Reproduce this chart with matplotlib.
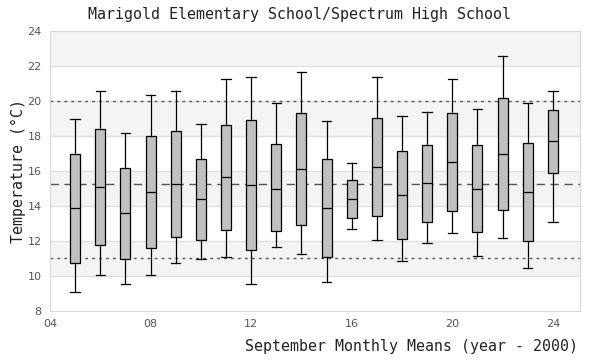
import numpy as np
import matplotlib
matplotlib.use("Agg")
import matplotlib.pyplot as plt

# September monthly means, year - 2000
years = list(range(5, 25))
whislo = [9.07, 10.04, 9.52, 10.04, 10.72, 10.95, 11.07, 9.52, 11.64, 11.24,
          9.64, 12.67, 12.04, 10.84, 11.87, 12.44, 11.12, 12.15, 10.44, 13.07]
q1 = [10.76, 11.79, 10.95, 11.58, 12.25, 12.04, 12.61, 11.47, 12.55, 12.90,
      11.07, 13.30, 13.41, 12.10, 13.07, 13.70, 12.50, 13.75, 11.98, 15.87]
med = [13.87, 15.07, 13.58, 14.78, 15.24, 14.38, 15.64, 15.18, 14.99, 16.11,
       13.87, 14.38, 16.23, 14.61, 15.30, 16.50, 14.95, 16.95, 14.78, 17.70]
q3 = [16.95, 18.40, 16.15, 17.98, 18.27, 16.67, 18.61, 18.90, 17.52, 19.30,
      16.67, 15.47, 19.01, 17.12, 17.47, 19.30, 17.47, 20.15, 17.58, 19.47]
whishi = [18.95, 20.57, 18.15, 20.32, 20.57, 18.67, 21.24, 21.35, 19.87, 21.64,
          18.86, 16.44, 21.35, 19.12, 19.35, 21.24, 19.52, 22.55, 19.87, 20.55]

overall_mean = 15.24
upper_ref = 20.0
lower_ref = 11.05

ytick_vals = [8, 10, 12, 14, 16, 18, 20, 22, 24]
xtick_vals = [4, 8, 12, 16, 20, 24]
xtick_labels = ["04", "08", "12", "16", "20", "24"]

stats = []
for i in range(len(years)):
    stats.append({"whislo": whislo[i], "q1": q1[i], "med": med[i],
                  "q3": q3[i], "whishi": whishi[i], "fliers": []})

fig = plt.figure(figsize=(6, 3.6), dpi=100)
ax = fig.add_axes([50 / 600, 49 / 360, 530 / 600, 280 / 360])

# alternating background bands
for lo in ytick_vals[:-1]:
    if (lo // 2) % 2 == 1:
        ax.axhspan(lo, lo + 2, color="#f4f4f4", zorder=0, lw=0)
for y in ytick_vals[1:-1]:
    ax.axhline(y, color="#e0e0e0", lw=1, zorder=0.5)

ax.axhline(overall_mean, color="#555555", lw=1, ls=(0, (6, 4)), zorder=1)
ax.axhline(upper_ref, color="#555555", lw=1, ls=(0, (2, 3)), zorder=1)
ax.axhline(lower_ref, color="#555555", lw=1, ls=(0, (2, 3)), zorder=1)

ax.bxp(stats, positions=years, widths=0.4, showfliers=False, patch_artist=True,
       boxprops=dict(facecolor="#c0c0c0", edgecolor="black", lw=0.9),
       medianprops=dict(color="black", lw=0.9),
       whiskerprops=dict(color="black", lw=0.9),
       capprops=dict(color="black", lw=0.9), capwidths=0.38, zorder=3)

ax.set_xlim(4, 25.08)
ax.set_ylim(8, 24)
ax.set_xticks(xtick_vals)
ax.set_xticklabels(xtick_labels)
ax.set_yticks(ytick_vals)
ax.tick_params(length=0, labelsize=8, labelcolor="#555555", pad=6)
for s in ax.spines.values():
    s.set_color("#d8d8d8")

mono = "DejaVu Sans Mono"
fig.text(0.5, 1 - 15 / 360, "Marigold Elementary School/Spectrum High School",
         ha="center", va="center", family=mono, fontsize=10.8, color="#222222")
fig.text(578 / 600, 1 - 347 / 360, "September Monthly Means (year - 2000)",
         ha="right", va="center", family=mono, fontsize=10.7, color="#222222")
fig.text(18 / 600, 1 - 171 / 360, "Temperature (°C)", rotation=90,
         ha="center", va="center", family=mono, fontsize=10.7, color="#222222")

fig.savefig("out.png", dpi=100)
